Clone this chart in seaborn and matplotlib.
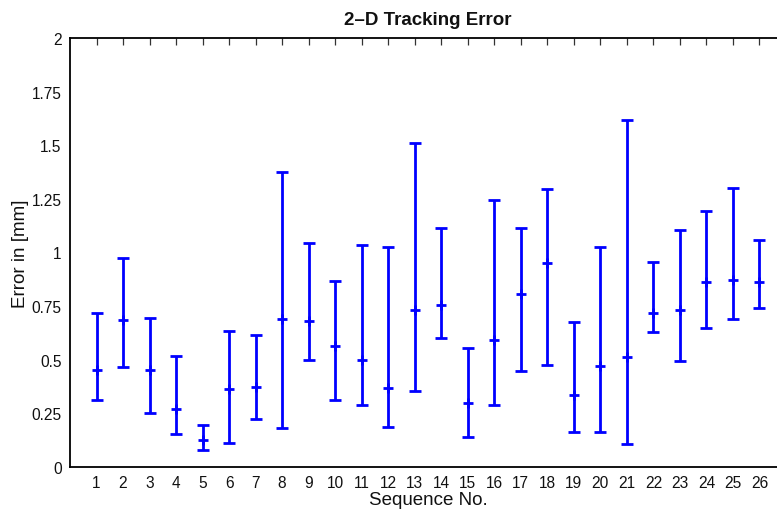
import matplotlib
matplotlib.use("Agg")
import matplotlib.pyplot as plt
import seaborn as sns
import numpy as np
import pandas as pd

seq = list(range(1, 27))
mean_err = [0.453, 0.685, 0.451, 0.269, 0.126, 0.361, 0.371, 0.690, 0.682, 0.565,
            0.498, 0.366, 0.733, 0.756, 0.297, 0.591, 0.808, 0.950, 0.333, 0.469,
            0.512, 0.718, 0.731, 0.862, 0.872, 0.862]
upper_err = [0.718, 0.974, 0.696, 0.517, 0.193, 0.632, 0.615, 1.377, 1.043, 0.866,
             1.037, 1.024, 1.511, 1.113, 0.556, 1.244, 1.114, 1.296, 0.674, 1.026,
             1.617, 0.956, 1.105, 1.195, 1.301, 1.060]
lower_err = [0.313, 0.467, 0.251, 0.154, 0.079, 0.111, 0.221, 0.179, 0.500, 0.311,
             0.287, 0.184, 0.352, 0.599, 0.137, 0.287, 0.447, 0.475, 0.164, 0.164,
             0.108, 0.630, 0.492, 0.646, 0.688, 0.739]
y_ticks = [0, 0.25, 0.5, 0.75, 1, 1.25, 1.5, 1.75, 2]
y_tick_labels = ["0", "0.25", "0.5", "0.75", "1", "1.25", "1.5", "1.75", "2"]

df = pd.DataFrame({"seq": seq, "mean": mean_err, "lo": lower_err, "hi": upper_err})

sns.set_style("white")
plt.rcParams["font.family"] = ["Liberation Sans", "DejaVu Sans"]

fig = plt.figure(figsize=(7.77, 5.10), dpi=100)
ax = fig.add_axes([70 / 777, (510 - 467.7) / 510, 716 / 777, (467.7 - 39.3) / 510])

blue = "#0000ff"
yerr = np.vstack([df["mean"] - df["lo"], df["hi"] - df["mean"]])
ax.errorbar(df["seq"], df["mean"], yerr=yerr, fmt="none", ecolor=blue,
            elinewidth=2.0, capsize=4.6, capthick=2.0, zorder=2)
sns.scatterplot(data=df, x="seq", y="mean", marker="+", s=55, color=blue,
                linewidth=2.0, ax=ax, zorder=3, legend=False)

ax.set_xlim(0, 27)
ax.set_ylim(0, 2)
ax.set_xticks(seq)
ax.set_xticklabels([str(s) for s in seq], fontsize=11.2)
ax.set_yticks(y_ticks)
ax.set_yticklabels(y_tick_labels, fontsize=11.2)
ax.tick_params(direction="in", length=5, width=0.9, top=True, right=True,
               colors="#333333", labelcolor="#111111", pad=6)
for s in ax.spines.values():
    s.set_visible(True)
    s.set_color("black")
    s.set_linewidth(1.3)

ax.set_xlabel("Sequence No.", fontsize=13.5, labelpad=1, color="#111111")
ax.set_ylabel("Error in [mm]", fontsize=13.5, labelpad=2, color="#111111")
ax.set_title("2\u2013D Tracking Error", fontsize=13.5, fontweight="bold", pad=10,
             color="#111111")

fig.savefig("out.png", dpi=100)
